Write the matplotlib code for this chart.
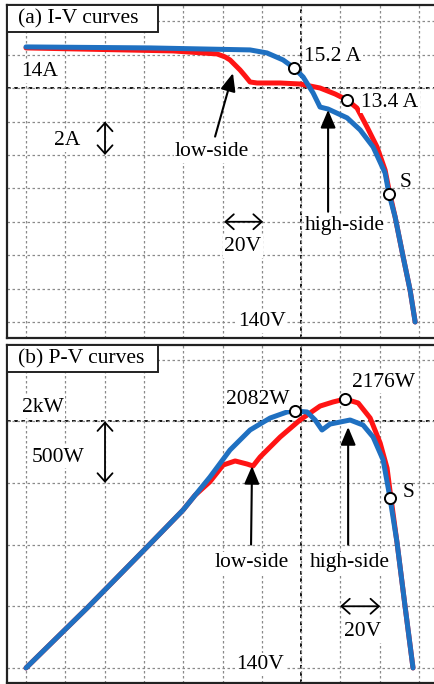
import matplotlib
matplotlib.use('Agg')
import matplotlib.pyplot as plt
from matplotlib.patches import Rectangle

plt.rcParams['font.family'] = ['Liberation Serif', 'DejaVu Serif']

# ---------------- data ----------------
# (a) I-V curves : voltage [V], current [A]
iv_red_v = [0, 74.8, 97.2, 101.3, 103.8, 108.9, 111.5, 114.0, 117.6, 129.3, 139.4, 149.6,
            157.3, 163.4, 168.4, 173.5, 178.6, 182.7, 184.7, 187.8, 191.9, 195.4, 198.0]
iv_red_i = [16.41, 16.23, 16.05, 15.87, 15.69, 15.09, 14.73, 14.37, 14.31, 14.31, 14.25, 14.01,
            13.65, 13.29, 12.81, 11.68, 10.48, 9.10, 7.90, 6.29, 3.89, 1.92, 0.0]
iv_blue_v = [0, 63.1, 114.0, 122.6, 130.8, 136.4, 141.0, 146.1, 149.6, 153.7, 163.4, 170.0,
             176.6, 182.7, 184.7, 187.8, 191.9, 195.4, 198.0]
iv_blue_i = [16.47, 16.41, 16.29, 16.11, 15.69, 15.21, 14.67, 13.71, 12.87, 12.75, 12.22, 11.50,
             10.48, 8.92, 7.66, 6.29, 3.89, 1.92, 0.0]
iv_mark_v = [136.4, 163.4, 184.7]
iv_mark_i = [15.21, 13.29, 7.66]

# (b) P-V curves : voltage [V], power [W]
pv_blue_v = [0, 31.6, 63.1, 79.9, 93.6, 103.8, 114.0, 124.2, 132.8, 136.9, 143.0, 147.1,
             150.6, 154.7, 164.9, 171.5, 176.6, 181.7, 185.2, 188.8, 192.9, 196.9]
pv_blue_p = [0, 494, 1005, 1280, 1548, 1767, 1929, 2026, 2075, 2083, 2075, 2010,
             1929, 1977, 2010, 1969, 1872, 1686, 1378, 1013, 494, 0]
pv_red_v = [0, 31.6, 63.1, 79.9, 86.0, 93.6, 100.3, 106.4, 112.5, 115.5, 119.1, 129.3,
            139.4, 149.6, 156.2, 162.3, 169.0, 175.1, 180.2, 183.7, 185.5, 188.8, 192.9, 196.9]
pv_red_p = [0, 494, 1005, 1280, 1400, 1510, 1645, 1678, 1653, 1637, 1710, 1872,
            2010, 2123, 2156, 2180, 2148, 2026, 1823, 1621, 1400, 1013, 494, 0]
pv_mark_v = [136.9, 162.3, 185.2]
pv_mark_p = [2083, 2180, 1378]

v_ticks = list(range(0, 201, 20))
i_ticks = list(range(0, 19, 2))
p_ticks = list(range(0, 2501, 500))

RED = '#ff1414'
BLUE = '#1f70c1'
FS = 15.5
TFS = 15.5

fig = plt.figure(figsize=(4.35, 6.84), dpi=100)
W, H = 435, 684


def rect(x0, y0, x1, y1):
    return [x0 / W, 1 - y1 / H, (x1 - x0) / W, (y1 - y0) / H]


ax1 = fig.add_axes(rect(7, 5, 436, 338))
ax2 = fig.add_axes(rect(7, 345, 436, 683))


def style(ax, yticks, xlim, ylim):
    ax.set_xlim(*xlim)
    ax.set_ylim(*ylim)
    ax.set_xticks(v_ticks)
    ax.set_yticks(yticks)
    ax.tick_params(length=0, labelbottom=False, labelleft=False)
    ax.grid(True, color='#8a8a8a', linestyle=(0, (2, 2)), linewidth=0.9)
    for s in ('left', 'top', 'bottom'):
        ax.spines[s].set_linewidth(1.6)
        ax.spines[s].set_color('#222222')
    ax.spines['right'].set_visible(False)


style(ax1, i_ticks, (-9.67, 208.6), (-0.96, 18.98))
style(ax2, p_ticks, (-9.67, 208.6), (-122, 2618))

tb = dict(facecolor='white', edgecolor='none', pad=1.0)
mk = dict(marker='o', linestyle='none', ms=8, mfc='white', mec='black', mew=1.4, zorder=6)
dbl = dict(arrowstyle='<->,head_length=0.5,head_width=0.45', color='black', lw=1.3,
           mutation_scale=12, shrinkA=0, shrinkB=0)
sgl = dict(arrowstyle='-|>,head_length=0.9,head_width=0.38', color='black', lw=1.5,
           mutation_scale=12, shrinkA=0, shrinkB=0)

# ---------------- (a) ----------------
ax1.axvline(140, color='black', linestyle=(0, (2, 2)), lw=1.3, zorder=1)
ax1.axhline(14, color='black', linestyle=(0, (2, 2)), lw=1.3, zorder=1)
ax1.plot(iv_red_v, iv_red_i, color=RED, lw=3.6, solid_capstyle='round', zorder=3)
ax1.plot(iv_blue_v, iv_blue_i, color=BLUE, lw=3.6, solid_capstyle='round', zorder=4)
ax1.plot(iv_mark_v, iv_mark_i, **mk)

ax1.add_patch(Rectangle((0, 1 - 27 / 333), 151 / 429, 27 / 333, transform=ax1.transAxes,
                        facecolor='white', edgecolor='#222222', lw=1.4, zorder=7, clip_on=False))
ax1.text(11 / 429, 1 - 14 / 333, '(a) I-V curves', transform=ax1.transAxes, fontsize=TFS,
         va='center', ha='left', zorder=8)

ax1.text(7.1, 14.97, '14A', fontsize=FS, ha='center', va='center', bbox=tb, zorder=5)
ax1.text(156.2, 15.87, '15.2 A', fontsize=FS, ha='center', va='center', bbox=tb, zorder=5)
ax1.text(185.2, 13.17, '13.4 A', fontsize=FS, ha='center', va='center', bbox=tb, zorder=5)
ax1.text(20.9, 10.84, '2A', fontsize=FS, ha='center', va='center', bbox=tb, zorder=5)
ax1.annotate('', xy=(40.2, 12.0), xytext=(40.2, 10.0), arrowprops=dbl)
ax1.text(94.7, 10.18, 'low-side', fontsize=FS, ha='center', va='center', bbox=tb, zorder=5)
ax1.annotate('', xy=(105.3, 14.9), xytext=(96.2, 11.1), arrowprops=sgl, zorder=5)
ax1.text(162.3, 5.75, 'high-side', fontsize=FS, ha='center', va='center', bbox=tb, zorder=5)
ax1.annotate('', xy=(153.7, 12.7), xytext=(153.7, 6.6), arrowprops=sgl, zorder=5)
ax1.text(192.9, 8.35, 'S', fontsize=FS, ha='center', va='center', zorder=5)
ax1.annotate('', xy=(120.6, 6.0), xytext=(100.8, 6.0), arrowprops=dbl)
ax1.text(110.4, 4.49, '20V', fontsize=FS, ha='center', va='center', bbox=tb, zorder=5)
ax1.text(120.1, 0.0, '140V', fontsize=FS, ha='center', va='center', bbox=tb, zorder=5)

# ---------------- (b) ----------------
ax2.axvline(140, color='black', linestyle=(0, (2, 2)), lw=1.3, zorder=1)
ax2.axhline(2000, color='black', linestyle=(0, (2, 2)), lw=1.3, zorder=1)
ax2.plot(pv_red_v, pv_red_p, color=RED, lw=3.6, solid_capstyle='round', zorder=3)
ax2.plot(pv_blue_v, pv_blue_p, color=BLUE, lw=3.6, solid_capstyle='round', zorder=4)
ax2.plot(pv_mark_v, pv_mark_p, **mk)

ax2.add_patch(Rectangle((0, 1 - 27 / 338), 151 / 429, 27 / 338, transform=ax2.transAxes,
                        facecolor='white', edgecolor='#222222', lw=1.4, zorder=7, clip_on=False))
ax2.text(11 / 429, 1 - 14 / 338, '(b) P-V curves', transform=ax2.transAxes, fontsize=TFS,
         va='center', ha='left', zorder=8)

ax2.text(8.65, 2115, '2kW', fontsize=FS, ha='center', va='center', bbox=tb, zorder=5)
ax2.text(16.3, 1710, '500W', fontsize=FS, ha='center', va='center', bbox=tb, zorder=5)
ax2.annotate('', xy=(40.2, 2000), xytext=(40.2, 1500), arrowprops=dbl)
ax2.text(118.1, 2180, '2082W', fontsize=FS, ha='center', va='center', bbox=tb, zorder=5)
ax2.text(181.7, 2318, '2176W', fontsize=FS, ha='center', va='center', bbox=tb, zorder=5)
ax2.text(194.4, 1426, 'S', fontsize=FS, ha='center', va='center', zorder=5)
ax2.text(115.0, 851, 'low-side', fontsize=FS, ha='center', va='center', bbox=tb, zorder=5)
ax2.annotate('', xy=(115.0, 1637), xytext=(114.5, 1000), arrowprops=sgl, zorder=5)
ax2.text(164.9, 851, 'high-side', fontsize=FS, ha='center', va='center', bbox=tb, zorder=5)
ax2.annotate('', xy=(163.9, 1953), xytext=(163.9, 1000), arrowprops=sgl, zorder=5)
ax2.annotate('', xy=(180.2, 500), xytext=(159.8, 500), arrowprops=dbl)
ax2.text(171.0, 292, '20V', fontsize=FS, ha='center', va='center', bbox=tb, zorder=5)
ax2.text(119.1, 32, '140V', fontsize=FS, ha='center', va='center', bbox=tb, zorder=5)

fig.savefig('out.png', dpi=100, facecolor='white')
